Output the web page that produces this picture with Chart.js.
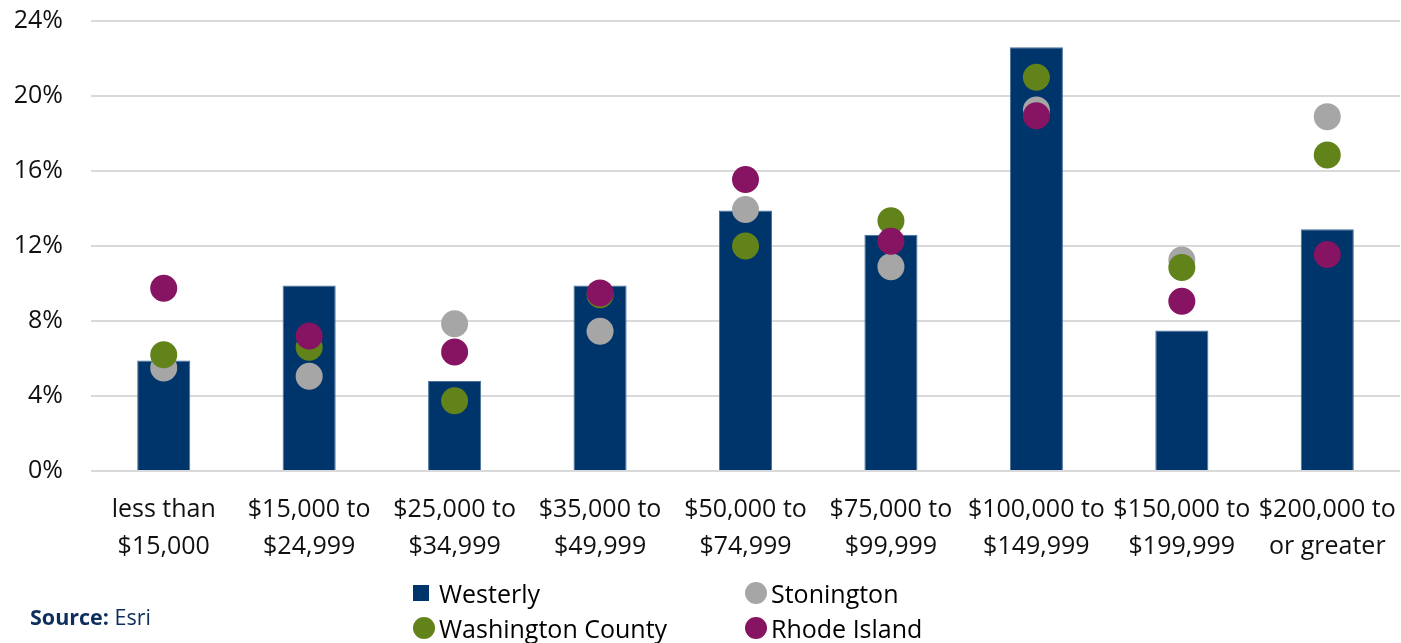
<!DOCTYPE html>
<html>
<head>
<meta charset="utf-8">
<script src="https://cdn.jsdelivr.net/npm/chart.js@4.4.1/dist/chart.umd.min.js"></script>
<style>
    html, body { margin: 0; padding: 0; background: #fff; }
    body { width: 1401px; height: 643px; position: relative; overflow: hidden; font-family: 'Open Sans', 'Noto Sans', sans-serif; }
    #wrap { position: absolute; left: 0; top: 0; width: 1401px; height: 643px; }
    .legend-item { position: absolute; font-size: 25px; color: #000; display: flex; align-items: center; height: 34px; white-space: nowrap; }
    .swatch { display: inline-block; margin-right: 4px; }
    .square { width: 16px; height: 16px; margin-right: 10px; }
    .circle { width: 22px; height: 22px; border-radius: 50%; }
    #source { position: absolute; left: 30px; top: 602px; font-size: 21.5px; color: #0e2e5c; }
    #source b { font-weight: 700; }
</style>
</head>
<body>
<div id="wrap"><canvas id="myChart" width="1401" height="643"></canvas></div>
<div id="legend"></div>
<div id="source"><b>Source:</b> Esri</div>
<script>
const categories = [
    ['less than', '$15,000'],
    ['$15,000 to', '$24,999'],
    ['$25,000 to', '$34,999'],
    ['$35,000 to', '$49,999'],
    ['$50,000 to', '$74,999'],
    ['$75,000 to', '$99,999'],
    ['$100,000 to', '$149,999'],
    ['$150,000 to', '$199,999'],
    ['$200,000 to', 'or greater']
]
const westerly = [5.9, 9.9, 4.8, 9.9, 13.9, 12.6, 22.6, 7.5, 12.9]
const stonington = [5.5, 5.05, 7.85, 7.45, 13.95, 10.9, 19.25, 11.25, 18.9]
const washingtonCounty = [6.2, 6.6, 3.75, 9.4, 12.0, 13.35, 21.0, 10.85, 16.85]
const rhodeIsland = [9.75, 7.2, 6.35, 9.5, 15.55, 12.25, 18.95, 9.05, 11.55]
const yTicks = [0, 4, 8, 12, 16, 20, 24]

const colors = {
    westerly: '#00356b',
    stonington: '#a6a6a6',
    washington: '#62821a',
    rhode: '#861462'
}

const tickFont = { family: "'Open Sans', 'Noto Sans', sans-serif", size: 25 }

const pointSeries = (label, data, color, order) => ({
    type: 'line',
    label: label,
    data: data,
    showLine: false,
    pointRadius: 13.5,
    pointHoverRadius: 13.5,
    pointBackgroundColor: color,
    pointBorderWidth: 0,
    borderColor: color,
    backgroundColor: color,
    order: order
})

const ctx = document.getElementById('myChart').getContext('2d')

const myChart = new Chart(ctx, {
    type: 'bar',
    data: {
        labels: categories,
        datasets: [{
            label: 'Westerly',
            data: westerly,
            backgroundColor: colors.westerly,
            borderColor: '#4a6f99',
            borderWidth: 1,
            barPercentage: 0.365,
            categoryPercentage: 1,
            order: 4
        },
        pointSeries('Stonington', stonington, colors.stonington, 3),
        pointSeries('Washington County', washingtonCounty, colors.washington, 2),
        pointSeries('Rhode Island', rhodeIsland, colors.rhode, 1)]
    },
    options: {
        responsive: false,
        animation: false,
        layout: { autoPadding: false, padding: { top: 21, right: 1, bottom: 0, left: 0 } },
        plugins: {
            legend: { display: false },
            tooltip: { enabled: false }
        },
        scales: {
            x: {
                afterFit: (axis) => {
                    axis.height = 172
                    axis.paddingLeft = 0
                    axis.paddingRight = 0
                },
                grid: { display: false, drawTicks: false },
                border: { display: false },
                ticks: {
                    color: '#111',
                    font: { ...tickFont, lineHeight: 1.45 },
                    padding: 21,
                    maxRotation: 0,
                    autoSkip: false
                }
            },
            y: {
                min: 0,
                max: 24,
                afterFit: (axis) => {
                    axis.width = 91
                    axis.paddingTop = 0
                    axis.paddingBottom = 0
                },
                afterBuildTicks: (axis) => { axis.ticks = yTicks.map(v => ({ value: v })) },
                grid: { color: '#d9d9d9', lineWidth: 2, drawTicks: false },
                border: { display: false },
                ticks: {
                    color: '#111',
                    font: tickFont,
                    padding: 28,
                    callback: (v) => v + '%'
                }
            }
        }
    }
})

const legendItems = [
    { label: 'Westerly', color: colors.westerly, shape: 'square', left: 413, top: 576 },
    { label: 'Stonington', color: colors.stonington, shape: 'circle', left: 745, top: 576 },
    { label: 'Washington County', color: colors.washington, shape: 'circle', left: 413, top: 611 },
    { label: 'Rhode Island', color: colors.rhode, shape: 'circle', left: 745, top: 611 }
]

const legend = document.getElementById('legend')
for (const item of legendItems) {
    const el = document.createElement('div')
    el.className = 'legend-item'
    el.style.left = item.left + 'px'
    el.style.top = item.top + 'px'
    const sw = document.createElement('span')
    sw.className = 'swatch ' + item.shape
    sw.style.background = item.color
    el.appendChild(sw)
    el.appendChild(document.createTextNode(item.label))
    legend.appendChild(el)
}
</script>
</body>
</html>
